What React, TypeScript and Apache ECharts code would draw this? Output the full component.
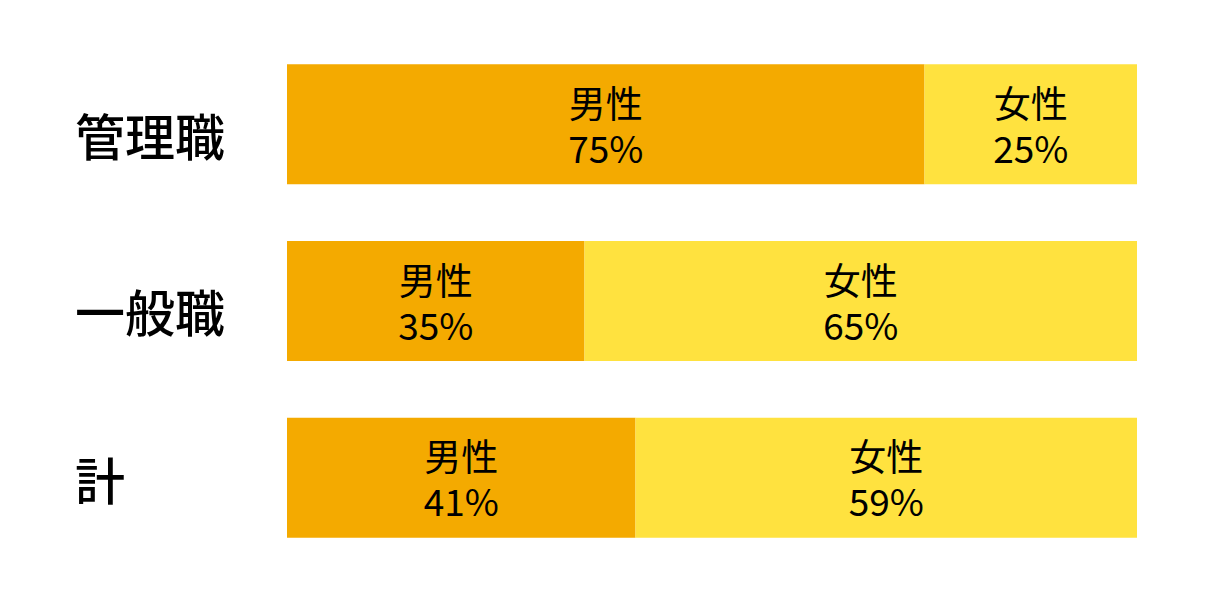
import * as echarts from "echarts";
import { useEffect, useRef } from "react";

const categories = ["管理職", "一般職", "計"];
const maleValues = [75, 35, 41];
const femaleValues = [25, 65, 59];
const seriesNames = ["男性", "女性"];

const FONT = '"Noto Sans CJK JP", "Noto Sans", sans-serif';

// the row titles sit a little below the bar centre in the original
const titleDrop = [20, 18, 0];

export default function App() {
	const chartRef = useRef<HTMLDivElement>(null);

	useEffect(() => {
		if (!chartRef.current) return;
		document.body.style.margin = "0";

		const chart = echarts.init(chartRef.current, null, { renderer: "svg" });

		const label = {
			show: true,
			position: "inside",
			color: "#000",
			fontFamily: FONT,
			fontSize: 37,
			fontWeight: "normal",
			lineHeight: 45,
			formatter: (p: { seriesName: string; value: number }) => `${p.seriesName}\n${p.value}%`
		};

		chart.setOption({
			animation: false,
			backgroundColor: "#fff",
			grid: { left: 287, right: 85, top: 36, bottom: 28, outerBoundsMode: "none", containLabel: false },
			xAxis: {
				type: "value",
				min: 0,
				max: 100,
				show: false
			},
			yAxis: {
				type: "category",
				data: categories.map((name, i) => ({
					value: name,
					textStyle: titleDrop[i]
						? { align: "left", verticalAlign: "top", lineHeight: titleDrop[i] }
						: { align: "left", verticalAlign: "middle" }
				})),
				inverse: true,
				axisLine: { show: false },
				axisTick: { show: false },
				axisLabel: {
					align: "left",
					margin: 212,
					color: "#000",
					fontFamily: FONT,
					fontSize: 50,
					fontWeight: 500
				}
			},
			series: [
				{
					name: seriesNames[0],
					type: "bar",
					stack: "total",
					barWidth: 120,
					data: maleValues,
					itemStyle: { color: "#F4AA00" },
					label
				},
				{
					name: seriesNames[1],
					type: "bar",
					stack: "total",
					barWidth: 120,
					data: femaleValues,
					itemStyle: { color: "#FFE23F" },
					label
				}
			]
		});

		return () => chart.dispose();
	}, []);

	return <div ref={chartRef} style={{ width: 1222, height: 594 }} />;
}
